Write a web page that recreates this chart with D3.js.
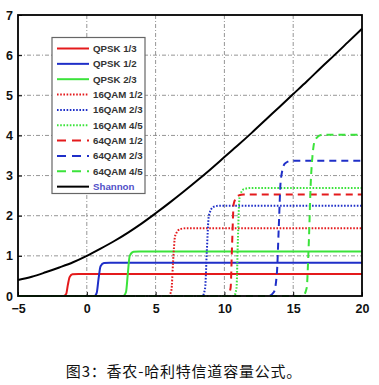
<!DOCTYPE html>
<html><head><meta charset="utf-8">
<script src="https://cdn.jsdelivr.net/npm/d3@7"></script>
<style>
body{margin:0;background:#fff;}
svg{display:block;}
</style></head>
<body>
<svg id="chart" width="379" height="385"></svg>
<script>
// ---- data ----
const xTicks = [-5, 0, 5, 10, 15, 20];
const yTicks = [0, 1, 2, 3, 4, 5, 6, 7];
const seriesNames = ["QPSK 1/3","QPSK 1/2","QPSK 2/3","16QAM 1/2","16QAM 2/3","16QAM 4/5","64QAM 1/2","64QAM 2/3","64QAM 4/5","Shannon"];
const seriesColors = ["#e41a1c","#1f2fc8","#3be33b","#e41a1c","#1f2fc8","#3be33b","#e41a1c","#1f2fc8","#3be33b","#000000"];
const seriesStyles = ["solid","solid","solid","dot","dot","dot","dash","dash","dash","solid"];

const snrShannon = [-5,-4,-3,-2,-1,0,1,2,3,4,5,6,7,8,9,10,11,12,13,14,15,16,17,18,19,20];
const capShannon = [0.40,0.48,0.59,0.71,0.84,1.00,1.18,1.37,1.58,1.81,2.06,2.32,2.59,2.87,3.16,3.46,3.76,4.07,4.39,4.71,5.03,5.35,5.68,6.00,6.33,6.66];

const qpsk13  = [[-5,0],[-1.7,0],[-1.5,0.05],[-1.38,0.27],[-1.25,0.47],[-1.05,0.54],[-0.6,0.55],[20,0.55]];
const qpsk12  = [[-5,0],[0.55,0],[0.72,0.08],[0.85,0.42],[1.0,0.74],[1.25,0.82],[1.7,0.83],[20,0.83]];
const qpsk23  = [[-5,0],[2.65,0],[2.85,0.1],[2.98,0.55],[3.12,1.0],[3.4,1.1],[3.8,1.11],[20,1.11]];
const qam16_12 = [[-5,0],[5.95,0],[6.15,0.15],[6.27,0.85],[6.42,1.5],[6.8,1.67],[7.3,1.69],[20,1.69]];
const qam16_23 = [[-5,0],[8.4,0],[8.6,0.2],[8.72,1.1],[8.87,2.0],[9.2,2.22],[9.7,2.25],[20,2.25]];
const qam16_45 = [[-5,0],[10.7,0],[10.88,0.2],[10.98,1.4],[11.1,2.45],[11.4,2.66],[11.9,2.69],[20,2.69]];
const qam64_12 = [[-5,0],[10.25,0],[10.45,0.2],[10.56,1.3],[10.68,2.3],[11.0,2.5],[11.4,2.53],[20,2.53]];
const qam64_23 = [[-5,0],[13.2,0],[13.6,0.1],[13.82,0.6],[13.95,1.7],[14.1,2.9],[14.4,3.3],[14.9,3.37],[20,3.37]];
const qam64_45 = [[-5,0],[15.7,0],[15.98,0.2],[16.12,1.2],[16.3,3.0],[16.6,3.9],[17.1,4.02],[20,4.02]];
const shannon = snrShannon.map((s,i)=>[s,capShannon[i]]);

const seriesData = [qpsk13,qpsk12,qpsk23,qam16_12,qam16_23,qam16_45,qam64_12,qam64_23,qam64_45,shannon];

const caption = "图3：香农-哈利特信道容量公式。";

// ---- layout ----
const L = 18, R = 362, T = 15, B = 296;
const svg = d3.select("#chart");
const x = d3.scaleLinear().domain([-5,20]).range([L,R]);
const y = d3.scaleLinear().domain([0,7]).range([B,T]);

// grid
const grid = svg.append("g").attr("stroke","#8a8a8a").attr("stroke-width",0.9).attr("stroke-dasharray","4,2,1,2");
grid.selectAll("line.gx").data(xTicks.filter(d=>d>-5&&d<20)).join("line")
  .attr("x1",d=>x(d)).attr("x2",d=>x(d)).attr("y1",T).attr("y2",B);
grid.selectAll("line.gy").data(yTicks.filter(d=>d>0&&d<7)).join("line")
  .attr("x1",L).attr("x2",R).attr("y1",d=>y(d)).attr("y2",d=>y(d));

// axes
const xa = svg.append("g").attr("transform",`translate(0,${B})`)
  .call(d3.axisBottom(x).tickValues(xTicks).tickSize(-4).tickPadding(8).tickFormat(d3.format("d")));
const ya = svg.append("g").attr("transform",`translate(${L},0)`)
  .call(d3.axisLeft(y).tickValues(yTicks).tickSize(-4).tickPadding(5).tickFormat(d3.format("d")));
[xa,ya].forEach(a=>{
  a.select(".domain").remove();
  a.selectAll(".tick line").attr("stroke","#000");
  a.selectAll("text").attr("font-family","Liberation Sans, Arial, sans-serif")
    .attr("font-size",12.5).attr("font-weight","bold").attr("fill","#111");
});

// lines
const line = d3.line().x(d=>x(d[0])).y(d=>y(d[1])).curve(d3.curveMonotoneX);
const dashFor = s => s==="dot" ? "1.6,1.6" : s==="dash" ? "7,5" : null;
const order = [9,0,1,2,3,4,5,6,7,8];
svg.append("g").selectAll("path").data(order).join("path")
  .attr("d",i=>line(seriesData[i]))
  .attr("fill","none")
  .attr("stroke",i=>seriesColors[i])
  .attr("stroke-width",2)
  .attr("stroke-dasharray",i=>dashFor(seriesStyles[i]));

// frame
svg.append("rect").attr("x",L).attr("y",T).attr("width",R-L).attr("height",B-T)
  .attr("fill","none").attr("stroke","#000").attr("stroke-width",1.8);

// legend
const lg = svg.append("g");
lg.append("rect").attr("x",52).attr("y",37.5).attr("width",93).attr("height",156)
  .attr("fill","#fff").attr("stroke","#666").attr("stroke-width",1.2);
const rows = lg.selectAll("g.row").data(seriesNames).join("g")
  .attr("transform",(d,i)=>`translate(0,${48.5+i*15.35})`);
rows.append("line").attr("x1",57).attr("x2",89).attr("y1",0).attr("y2",0)
  .attr("stroke",(d,i)=>seriesColors[i]).attr("stroke-width",2)
  .attr("stroke-dasharray",(d,i)=>seriesStyles[i]==="dash"?"9,6":dashFor(seriesStyles[i]));
rows.append("text").attr("x",93).attr("y",3.4).text(d=>d)
  .attr("font-family","Liberation Sans, Arial, sans-serif").attr("font-size",9.7).attr("font-weight","bold")
  .attr("fill",(d,i)=>i===9?"#5050c8":"#333");

// caption
svg.append("text").attr("x",184).attr("y",377).attr("text-anchor","middle")
  .attr("font-family","Noto Sans CJK SC, sans-serif").attr("font-size",15).attr("fill","#111")
  .attr("letter-spacing",0.8)
  .text(caption);
</script>
</body></html>
